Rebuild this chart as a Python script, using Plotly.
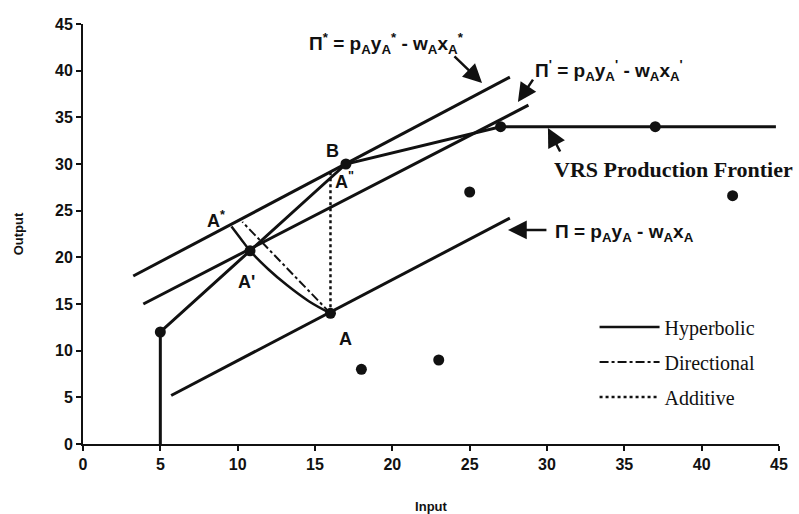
import plotly.graph_objects as go

# ---- data ----
frontier_x = [5, 5, 10.8, 17, 27, 44.8]
frontier_y = [0, 12, 20.7, 30, 34, 34]

points_x = [5, 10.8, 17, 16, 27, 37, 25, 42, 18, 23]
points_y = [12, 20.7, 30, 14, 34, 34, 27, 26.6, 8, 9]

pi_x = [5.7, 27.6]
pi_y = [5.2, 24.2]
pi1_x = [3.9, 28.8]
pi1_y = [15.0, 36.3]
pistar_x = [3.25, 27.6]
pistar_y = [18.0, 39.3]

hyper_x = [16, 14.6, 13.2, 12.0, 10.8, 10.2, 9.6]
hyper_y = [14, 15.3, 17.0, 18.7, 20.7, 22.0, 23.3]
direc_x = [16, 10.3]
direc_y = [14, 23.8]
addit_x = [16, 16]
addit_y = [14, 29.2]

x_ticks = [0, 5, 10, 15, 20, 25, 30, 35, 40, 45]
y_ticks = [0, 5, 10, 15, 20, 25, 30, 35, 40, 45]

legend_names = ["Hyperbolic", "Directional", "Additive"]

fig = go.Figure()
black = "#111111"
fig.add_trace(go.Scatter(x=frontier_x, y=frontier_y, mode="lines",
                         line=dict(color=black, width=3), showlegend=False))
for xs, ys in [(pi_x, pi_y), (pi1_x, pi1_y), (pistar_x, pistar_y)]:
    fig.add_trace(go.Scatter(x=xs, y=ys, mode="lines",
                             line=dict(color=black, width=3), showlegend=False))
fig.add_trace(go.Scatter(x=hyper_x, y=hyper_y, mode="lines", name=legend_names[0],
                         legendgroup="h",
                         line=dict(color=black, width=2.5, shape="spline")))
fig.add_trace(go.Scatter(x=direc_x, y=direc_y, mode="lines", name=legend_names[1],
                         legendgroup="d",
                         line=dict(color=black, width=2, dash="dashdot")))
fig.add_trace(go.Scatter(x=addit_x, y=addit_y, mode="lines", name=legend_names[2],
                         legendgroup="a",
                         line=dict(color=black, width=2.5, dash="dot")))
fig.add_trace(go.Scatter(x=points_x, y=points_y, mode="markers",
                         marker=dict(color=black, size=11), showlegend=False))

eqfont = dict(family="Liberation Sans", size=19, color=black, weight="bold")
lblfont = dict(family="Liberation Sans", size=18, color=black, weight="bold")
ann = [
    dict(x=14.5, y=42.96, xanchor="left", showarrow=False,
         text="Π<sup>*</sup> = p<sub>A</sub>y<sub>A</sub><sup>*</sup> - w<sub>A</sub>x<sub>A</sub><sup>*</sup>", font=eqfont),
    dict(x=29.1, y=40.07, xanchor="left", showarrow=False,
         text="Π<sup>'</sup> = p<sub>A</sub>y<sub>A</sub><sup>'</sup> - w<sub>A</sub>x<sub>A</sub><sup>'</sup>", font=eqfont),
    dict(x=30.4, y=22.6, xanchor="left", showarrow=False,
         text="Π = p<sub>A</sub>y<sub>A</sub> - w<sub>A</sub>x<sub>A</sub>", font=eqfont),
    dict(x=30.3, y=29.36, xanchor="left", showarrow=False,
         text="VRS Production Frontier",
         font=dict(family="Liberation Serif", size=22, color=black, weight="bold")),
    dict(x=16.1, y=31.4, showarrow=False, text="B", font=lblfont),
    dict(x=16.9, y=28.2, showarrow=False, text="A<sup>\"</sup>", font=lblfont),
    dict(x=8.6, y=24.1, showarrow=False, text="A<sup>*</sup>", font=lblfont),
    dict(x=10.6, y=17.4, showarrow=False, text="A'", font=lblfont),
    dict(x=16.94, y=11.25, showarrow=False, text="A", font=lblfont),
]
arrows = [
    ((23.92, 41.68), (25.8, 38.68)),
    ((29.16, 39.2), (28.12, 36.64)),
    ((30.9, 31.18), (30.06, 33.86)),
    ((30.06, 22.93), (27.48, 22.93)),
]
for (tx, ty), (hx, hy) in arrows:
    ann.append(dict(x=hx, y=hy, ax=tx, ay=ty, axref="x", ayref="y", xref="x", yref="y",
                    text="", showarrow=True, arrowhead=2, arrowsize=1.5,
                    arrowwidth=2.5, arrowcolor=black))
fig.update_layout(annotations=ann)

tickfont = dict(family="Liberation Sans", size=16, color=black, weight="bold")
fig.update_xaxes(range=[0, 45], tickvals=x_ticks, ticks="outside", ticklen=5, tickwidth=2,
                 tickcolor=black, showline=True, linecolor=black, linewidth=2,
                 showgrid=False, zeroline=False, tickfont=tickfont, automargin=False,
                 title=dict(text="Input", font=dict(family="Liberation Sans", size=13,
                                                   color=black, weight="bold"), standoff=30))
fig.update_yaxes(range=[0, 45], tickvals=y_ticks, ticks="outside", ticklen=5, tickwidth=2,
                 tickcolor=black, showline=True, linecolor=black, linewidth=2,
                 showgrid=False, zeroline=False, tickfont=tickfont,
                 title=dict(text="Output", font=dict(family="Liberation Sans", size=13,
                                                    color=black, weight="bold"), standoff=28))
fig.update_layout(
    width=799, height=514,
    margin=dict(l=83, r=20, t=24, b=70),
    paper_bgcolor="white", plot_bgcolor="white",
    legend=dict(x=0.735, y=0.325, xanchor="left", yanchor="top",
                font=dict(family="Liberation Serif", size=20, color=black),
                bgcolor="rgba(0,0,0,0)", tracegroupgap=6, itemwidth=60),
)
fig.write_html("out.html")
